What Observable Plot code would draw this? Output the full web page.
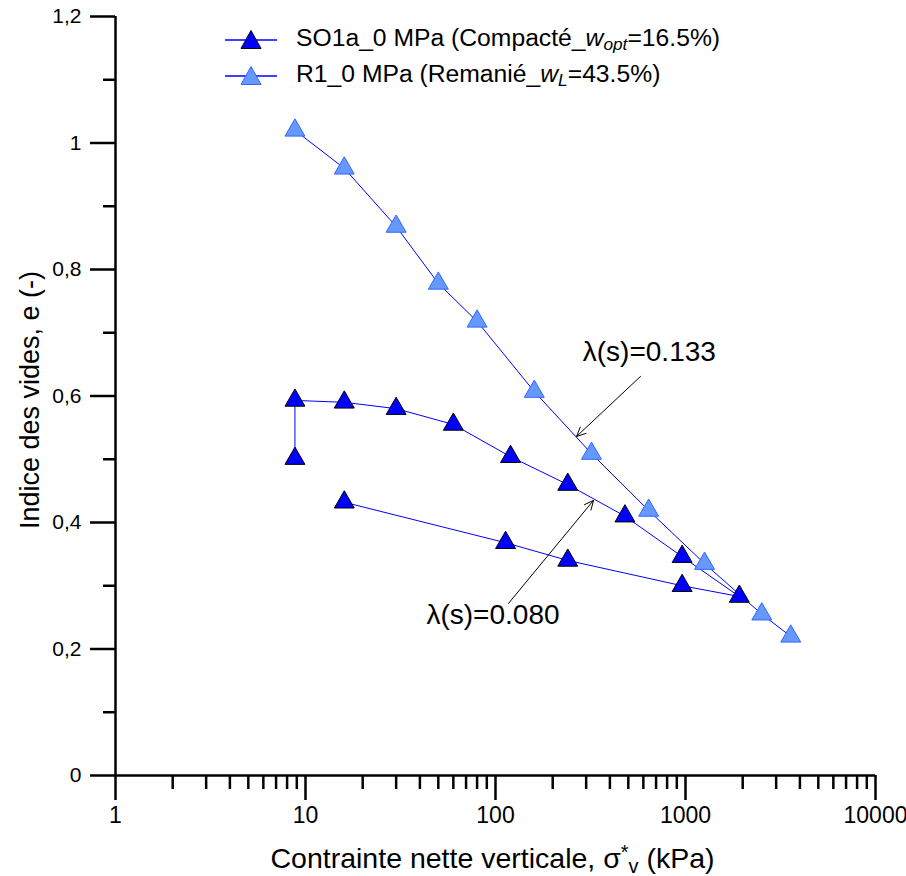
<!DOCTYPE html>
<html>
<head>
<meta charset="utf-8">
<script src="https://cdn.jsdelivr.net/npm/d3@7"></script>
<script src="https://cdn.jsdelivr.net/npm/@observablehq/plot@0.6"></script>
<style>
  html, body { margin: 0; padding: 0; background: #fff; }
  #wrap { position: relative; width: 906px; height: 876px; font-family: "Liberation Sans", Arial, sans-serif; }
  #wrap svg { display: block; }
  .ov { position: absolute; white-space: nowrap; color: #000; line-height: 1; }
  .leg { font-size: 24.7px; display: flex; align-items: center; }
  .leg svg { margin-right: 18px; }
  sub { font-size: 0.7em; vertical-align: -0.25em; }
  sup { font-size: 0.7em; vertical-align: 0.45em; }
</style>
</head>
<body>
<div id="wrap"></div>
<script>
// ---- data ----
const soStress = [8.8, 8.8, 16, 30, 60, 120, 240, 480, 960, 1920, 960, 240, 113, 16];
const soVoid   = [0.501, 0.593, 0.590, 0.580, 0.555, 0.504, 0.460, 0.410, 0.346, 0.283, 0.300, 0.340, 0.368, 0.432];
const r1Stress = [8.8, 16, 30, 50, 80, 160, 320, 640, 1260, 2520, 3580];
const r1Void   = [1.020, 0.960, 0.868, 0.778, 0.718, 0.607, 0.509, 0.419, 0.335, 0.255, 0.220];
const yTicks = [0, 0.2, 0.4, 0.6, 0.8, 1.0, 1.2];
const yMinorTicks = [0.1, 0.3, 0.5, 0.7, 0.9, 1.1];
const xTicks = [1, 10, 100, 1000, 10000];
const xMinorTicks = [];
for (const d of [1, 10, 100, 1000]) for (let k = 2; k <= 9; k++) xMinorTicks.push(d * k);
const annLabels = ["λ(s)=0.133", "λ(s)=0.080"];
const annLabelX = [645, 97];
const annLabelY = [0.670, 0.253];
const arrowFromX = [580, 117];
const arrowFromY = [0.631, 0.272];
const arrowToX = [267, 328];
const arrowToY = [0.536, 0.435];

const so = soStress.map((x, i) => ({x, y: soVoid[i]}));
const r1 = r1Stress.map((x, i) => ({x, y: r1Void[i]}));
const ann = annLabels.map((t, i) => ({t, x: annLabelX[i], y: annLabelY[i]}));
const arrows = arrowFromX.map((x1, i) => ({x1, y1: arrowFromY[i], x2: arrowToX[i], y2: arrowToY[i]}));

const plot = Plot.plot({
  width: 906, height: 876,
  marginLeft: 115, marginRight: 31, marginTop: 16, marginBottom: 101,
  style: {fontFamily: "Liberation Sans, Arial, sans-serif", background: "#fff"},
  x: {type: "log", domain: [1, 10000]},
  y: {domain: [0, 1.2]},
  marks: [
    Plot.axisY(yMinorTicks, {tickSize: 12, strokeWidth: 2.5, text: null, label: null}),
    Plot.axisY(yTicks, {tickSize: 25, tickPadding: 9, strokeWidth: 2.5, fontSize: 21, label: null,
      tickFormat: d => String(d).replace(".", ",")}),
    Plot.axisX(xMinorTicks, {tickSize: 14, strokeWidth: 2.5, text: null, label: null}),
    Plot.axisX(xTicks, {tickSize: 25, tickPadding: 6, strokeWidth: 2.5, fontSize: 23, label: null,
      tickFormat: d => String(d)}),
    Plot.ruleY([0], {stroke: "black", strokeWidth: 2.5}),
    Plot.ruleX([1], {stroke: "black", strokeWidth: 2.5}),
    Plot.line(r1, {x: "x", y: "y", stroke: "#0000ff", strokeWidth: 1}),
    Plot.line(so, {x: "x", y: "y", stroke: "#0000ff", strokeWidth: 1}),
    Plot.dot(r1, {x: "x", y: "y", symbol: "triangle", r: 7.4, fill: "#6699ff", stroke: "#3366ff", strokeWidth: 1}),
    Plot.dot(so, {x: "x", y: "y", symbol: "triangle", r: 7.4, fill: "#0000ff", stroke: "#000", strokeWidth: 1}),
    Plot.arrow(arrows, {x1: "x1", y1: "y1", x2: "x2", y2: "y2", stroke: "#000", strokeWidth: 1, headLength: 15, headAngle: 50}),
    Plot.text(ann, {x: "x", y: "y", text: "t", fontSize: 28, fill: "#000", textAnchor: "middle", lineAnchor: "middle"})
  ]
});

const wrap = document.getElementById("wrap");
wrap.appendChild(plot);

function legSym(fill, stroke) {
  return `<svg width="54" height="22" viewBox="0 0 54 22"><line x1="1" y1="11" x2="53" y2="11" stroke="#0000ff" stroke-width="1.3"/>` +
    `<path d="M27,1.5 L37,19.5 L17,19.5 Z" fill="${fill}" stroke="${stroke}" stroke-width="1"/></svg>`;
}
const legend = [
  {sym: legSym("#0000ff", "#000"), html: "SO1a_0 MPa (Compacté_<i>w<sub>opt</sub></i>=16.5%)", top: 26},
  {sym: legSym("#6699ff", "#3366ff"), html: "R1_0 MPa (Remanié_<i>w<sub>L</sub></i>=43.5%)", top: 62}
];
for (const l of legend) {
  const d = document.createElement("div");
  d.className = "ov leg";
  d.style.left = "224px"; d.style.top = l.top + "px";
  d.innerHTML = l.sym + "<span>" + l.html + "</span>";
  wrap.appendChild(d);
}
const xt = document.createElement("div");
xt.className = "ov";
xt.style.cssText = "left:0;width:985px;text-align:center;top:843px;font-size:28.5px;";
xt.innerHTML = "Contrainte nette verticale, σ<sup>*</sup><sub>v</sub> (kPa)";
wrap.appendChild(xt);
const yt = document.createElement("div");
yt.className = "ov";
yt.style.cssText = "left:30px;top:400px;font-size:27px;transform:translate(-50%,-50%) rotate(-90deg);";
yt.textContent = "Indice des vides, e (-)";
wrap.appendChild(yt);
</script>
</body>
</html>
